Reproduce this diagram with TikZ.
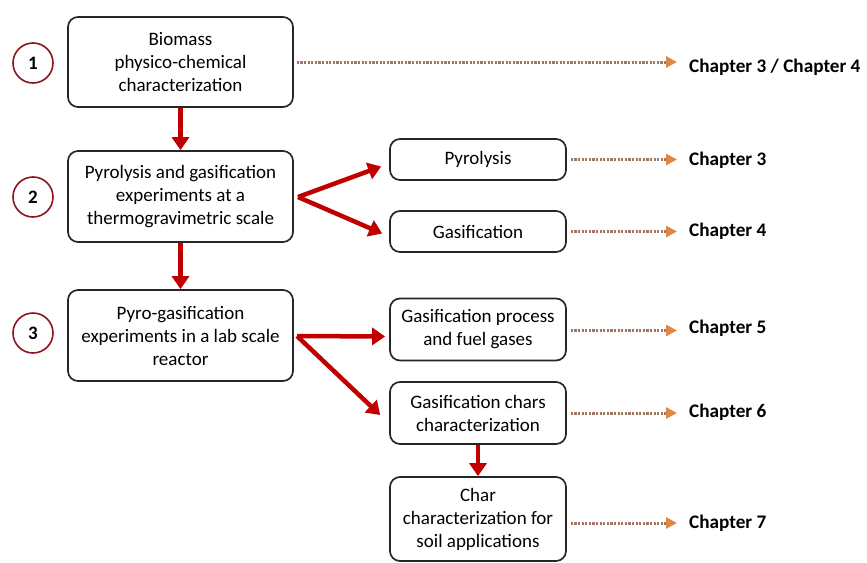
\documentclass[tikz,border=0pt]{standalone}
\usepackage{fontspec}
\setmainfont{Carlito}
\usetikzlibrary{arrows.meta}
\definecolor{arrowred}{RGB}{192,0,0}
\definecolor{dotbrown}{RGB}{160,118,100}
\definecolor{tiporange}{RGB}{222,135,70}
\definecolor{ringred}{RGB}{140,20,30}

\begin{document}
\begin{tikzpicture}
[x=1pt, y=-1pt,
box/.style={draw=black!85, line width=1.7pt, rounded corners=10pt, align=center, font=\fontsize{19}{23}\selectfont, inner sep=0pt},
num/.style={circle, draw=ringred, line width=1.6pt, minimum size=40pt, inner sep=0pt, font=\fontsize{19}{22}\selectfont\bfseries},
chap/.style={anchor=west, font=\fontsize{19.2}{22}\selectfont\bfseries, inner sep=0pt},
flow/.style={arrowred, line width=4.5pt, -{Triangle[length=13pt,width=17pt]}},
link/.style={dotbrown, line width=3pt, dash pattern=on 2.2pt off 1.4pt, shorten >=12pt, -{Triangle[length=11pt,width=11pt,color=tiporange]}}]

\useasboundingbox (0,0) rectangle (867,562);

% steps
\node[num] (n1) at (33,63) {1};
\node[num] (n2) at (33,197) {2};
\node[num] (n3) at (33,333) {3};

\node[box, minimum width=225pt, minimum height=90pt] (bio) at (180.5,62) {Biomass\\physico-chemical\\characterization};
\node[box, minimum width=225pt, minimum height=91pt] (tga) at (180.5,196.5) {Pyrolysis and gasification\\experiments at a\\thermogravimetric scale};
\node[box, minimum width=225pt, minimum height=91pt] (lab) at (180.5,335.5) {Pyro-gasification\\experiments in a lab scale\\reactor};

% right column
\node[box, minimum width=176pt, minimum height=41pt] (pyro) at (478,159.5) {Pyrolysis};
\node[box, minimum width=176pt, minimum height=41pt] (gas) at (478,231.5) {Gasification};
\node[box, minimum width=176pt, minimum height=62pt] (gproc) at (478,329.5) {Gasification process\\and fuel gases};
\node[box, minimum width=176pt, minimum height=62pt] (chars) at (478,413) {Gasification chars\\characterization};
\node[box, minimum width=176pt, minimum height=84pt] (soil) at (478,519) {Char\\characterization for\\soil applications};

% chapters
\node[chap] (c1) at (689,67) {Chapter 3 / Chapter 4};
\node[chap] (c2) at (689,160) {Chapter 3};
\node[chap] (c3) at (689,231) {Chapter 4};
\node[chap] (c4) at (689,328) {Chapter 5};
\node[chap] (c5) at (689,412) {Chapter 6};
\node[chap] (c6) at (689,523) {Chapter 7};

\coordinate (v2) at (298,197);
\coordinate (v3) at (297,336);

% red arrows
\draw[flow] (bio.south) -- (tga.north);
\draw[flow] (tga.south) -- (lab.north);
\draw[flow] (chars.south) -- (soil.north);
\draw[flow] (v2) -- ([shift={(-8,7)}]pyro.west);
\draw[flow] (v2) -- ([shift={(-7,2)}]gas.west);
\draw[flow] (v3) -- ([shift={(-4,7)}]gproc.west);
\draw[flow] (v3) -- ([shift={(-9,2)}]chars.west);

% dotted links
\draw[link] ([xshift=3pt]bio.east) -- (c1.west |- bio.east);
\draw[link] ([xshift=4pt]pyro.east) -- (c2.west |- pyro.east);
\draw[link] ([xshift=4pt]gas.east) -- (c3.west |- gas.east);
\draw[link] ([xshift=4pt,yshift=-1pt]gproc.east) -- ([yshift=-1pt]c4.west |- gproc.east);
\draw[link] ([xshift=4pt]chars.east) -- (c5.west |- chars.east);
\draw[link] ([xshift=4pt,yshift=-4pt]soil.east) -- ([yshift=-4pt]c6.west |- soil.east);
\end{tikzpicture}
\end{document}
